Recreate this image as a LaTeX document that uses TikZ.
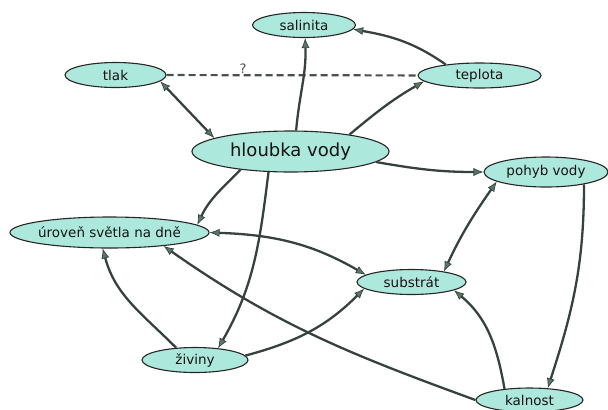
\documentclass[tikz,border=0pt]{standalone}
\usepackage{fontspec}
\setmainfont{DejaVu Sans}
\usetikzlibrary{shapes.geometric,arrows.meta}
\definecolor{nodefill}{RGB}{173,232,220}
\definecolor{edgecol}{RGB}{55,66,62}
\definecolor{headcol}{RGB}{88,120,106}
\definecolor{dashcol}{RGB}{75,80,78}
\begin{document}
\begin{tikzpicture}[x=1bp,y=1bp,
  concept/.style={ellipse, draw=black!85, line width=1.1bp, fill=nodefill, inner sep=0pt,
    text=black!92, font=\fontsize{13.5bp}{16bp}\selectfont},
  tipa/.tip={Latex[length=10bp,width=8bp,fill=headcol,line width=0.7bp]},
  link/.style={draw=edgecol, line width=2.3bp, -tipa},
  both/.style={draw=edgecol, line width=2.3bp, tipa-tipa},
  dashline/.style={draw=dashcol, line width=2.2bp, dash pattern=on 7bp off 4bp},
]
\useasboundingbox (0,0) rectangle (608,-409);

\node[concept, minimum width=103bp, minimum height=25bp] (sal) at (304,-25) {\makebox[0pt]{salinita}};
\node[concept, minimum width=101bp, minimum height=25bp] (tlak) at (115.5,-75) {\makebox[0pt]{tlak}};
\node[concept, minimum width=123bp, minimum height=25bp] (tep) at (479.5,-75.5) {\makebox[0pt]{teplota}};
\node[concept, minimum width=197bp, minimum height=41bp, font=\fontsize{18bp}{21bp}\selectfont] (hl) at (290.5,-151.5) {\makebox[0pt]{hloubka vody}};
\node[concept, minimum width=124bp, minimum height=30bp] (poh) at (546,-172) {\makebox[0pt]{pohyb vody}};
\node[concept, minimum width=199bp, minimum height=31bp] (uro) at (109.5,-232.5) {\makebox[0pt]{úroveň světla na dně}};
\node[concept, minimum width=109bp, minimum height=25bp] (sub) at (411.5,-282) {\makebox[0pt]{substrát}};
\node[concept, minimum width=106bp, minimum height=25bp] (ziv) at (195,-360) {\makebox[0pt]{živiny}};
\node[concept, minimum width=107bp, minimum height=24bp] (kal) at (529.5,-400) {\makebox[0pt]{kalnost}};

\draw[dashline] (tlak) -- node[pos=0.305, above, inner sep=0.5bp, text=dashcol, font=\fontsize{13bp}{15bp}\selectfont] (q) {?} (tep);

\draw[link] (hl.75) to[out=85,in=-88] (sal.-85);
\draw[link] (tep.162) to[out=145,in=-10] (sal.-5);
\draw[both] (tlak.-8) -- (hl.170);
\draw[link] (hl.16) to[out=40,in=-150] (tep.186);
\draw[link] (hl.-7) to[out=-10,in=180] (poh.west);
\draw[link] (hl.200) to[out=225,in=65] (uro.5);
\draw[link] (hl.223) to[out=-97,in=60] (ziv.27);
\draw[both] (uro.0) to[out=-2,in=150] (sub.171);
\draw[both] (poh.191) to[out=235,in=65] (sub.18);
\draw[link] (poh.-18) to[out=-90,in=72] (kal.33);
\draw[link] (ziv.147) to[out=135,in=-75] (uro.-113);
\draw[link] (ziv.5) to[out=15,in=225] (sub.188);
\draw[link] (kal.156) to[out=100,in=-40] (sub.-11);
\draw[link] (kal.180) to[out=160,in=-35] (uro.-14);
\end{tikzpicture}
\end{document}
